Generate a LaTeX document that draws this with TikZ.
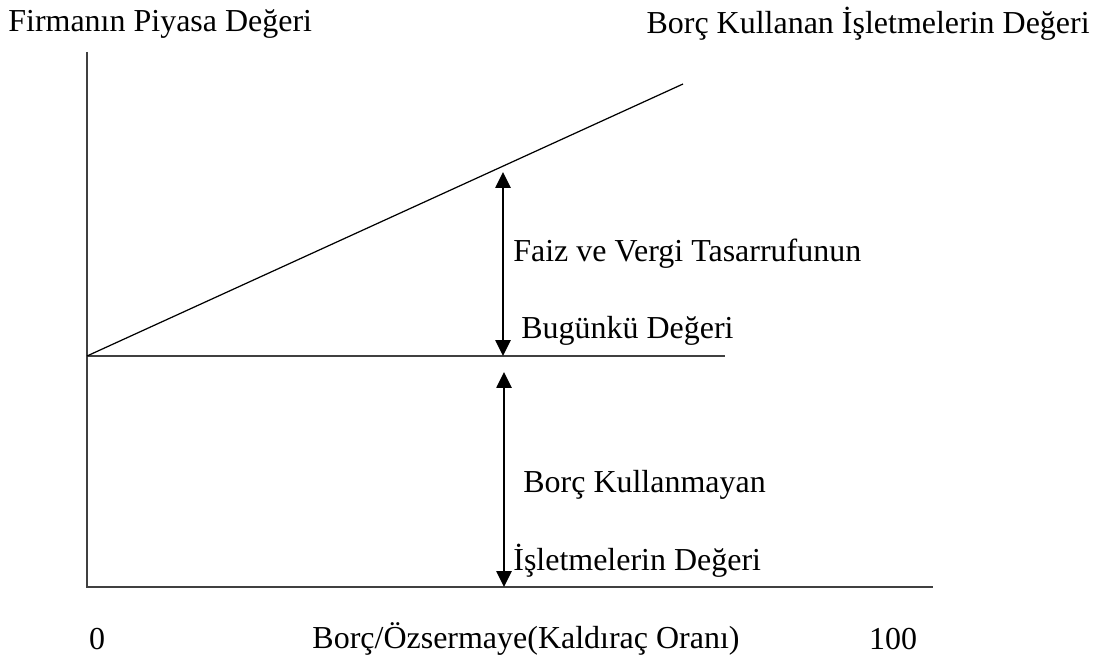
\documentclass[tikz,border=0pt]{standalone}
\usepackage{fontspec}
\setmainfont{Liberation Serif}
\usetikzlibrary{arrows.meta,positioning}

\begin{document}
\begin{tikzpicture}[
        x=0.02cm, y=-0.02cm,
        axisline/.style={draw=black!75, line width=0.9pt},
        thinline/.style={draw=black, line width=0.7pt},
        dimarrow/.style={{Triangle[width=8.5pt,length=9pt]}-{Triangle[width=8.5pt,length=9pt]}, line width=1.3pt},
        lbl/.style={font=\fontsize{18.2}{21}\selectfont, inner sep=0pt}
    ]
        \useasboundingbox (0,0) rectangle (1102,655);

        % Axes
        \coordinate (origin) at (87,587);
        \coordinate (ytop) at (87,52);
        \coordinate (xend) at (933,587);
        \draw[axisline] (ytop) -- (origin) -- (xend);

        % Unlevered value and levered value lines
        \coordinate (base) at (87,356);
        \coordinate (baseend) at (725,356);
        \coordinate (rise) at (683,84);
        \draw[axisline] (base) -- (baseend);
        \draw[thinline] (base) -- (rise);

        % Arrows
        \coordinate (uptop) at (503,172);
        \coordinate (upbot) at (503,356);
        \coordinate (lowtop) at (504,372);
        \coordinate (lowbot) at (504,587);
        \draw[dimarrow] (uptop) -- (upbot);
        \draw[dimarrow] (lowtop) -- (lowbot);

        % Labels
        \node[lbl, anchor=west] (faiz) at (513,254) {Faiz ve Vergi Tasarrufunun};
        \node[lbl, anchor=west] (bugun) at (521,331) {Bugünkü Değeri};
        \node[lbl, anchor=west] (kullanmayan) at (523,485) {Borç Kullanmayan};
        \node[lbl, anchor=west] (isletme) at (513,561) {İşletmelerin Değeri};

        \node[lbl, anchor=west] (yaxis) at (8,24) {Firmanın Piyasa Değeri};
        \node[lbl, anchor=east] (levered) at (1090,24) {Borç Kullanan İşletmelerin Değeri};

        \node[lbl] (zero) at (97,639) {0};
        \node[lbl] (xaxis) at (526,639) {Borç/Özsermaye(Kaldıraç Oranı)};
        \node[lbl] (hundred) at (893,639) {100};
\end{tikzpicture}
\end{document}
